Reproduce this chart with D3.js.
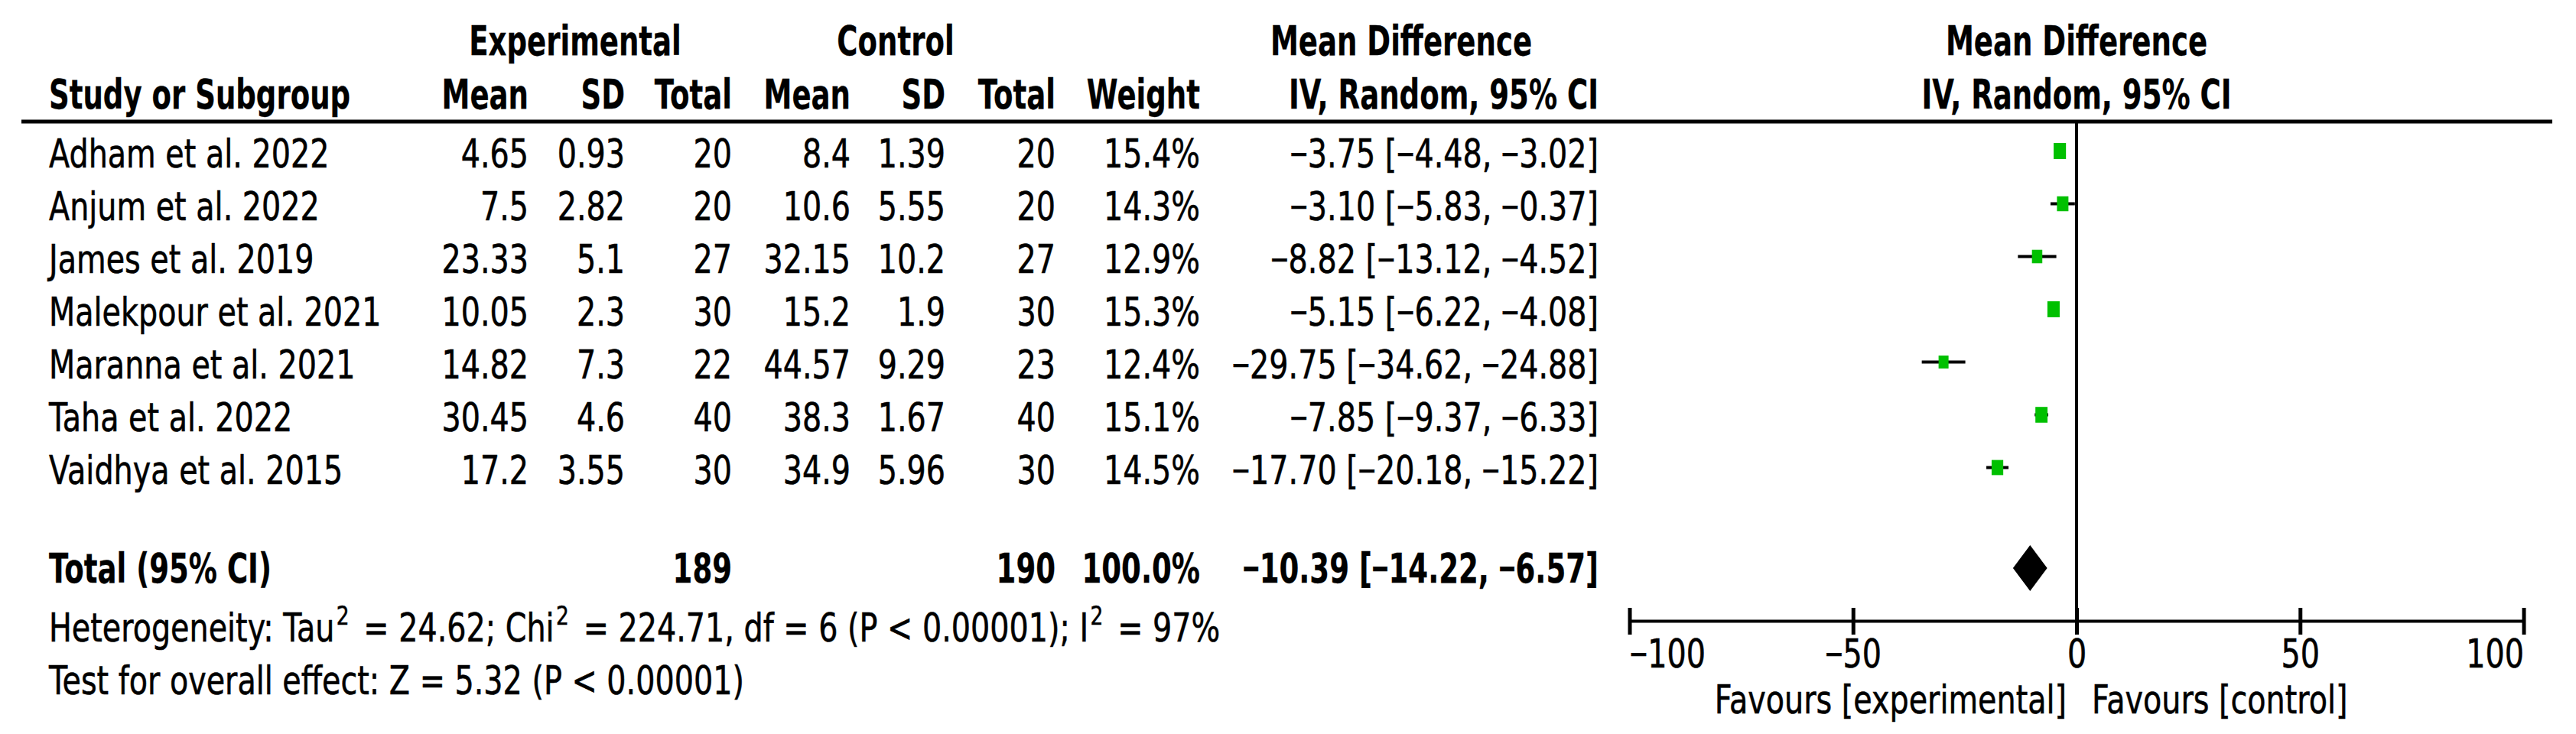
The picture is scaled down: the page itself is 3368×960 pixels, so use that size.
<!DOCTYPE html>
<html><head><meta charset="utf-8">
<script src="https://cdn.jsdelivr.net/npm/d3@7"></script>
<style>html,body{margin:0;padding:0;background:#fff;} svg{display:block;}</style>
</head><body>
<script>
// ---------------- data ----------------
const studies  = ["Adham et al. 2022","Anjum et al. 2022","James et al. 2019","Malekpour et al. 2021","Maranna et al. 2021","Taha et al. 2022","Vaidhya et al. 2015"];
const expMean  = ["4.65","7.5","23.33","10.05","14.82","30.45","17.2"];
const expSD    = ["0.93","2.82","5.1","2.3","7.3","4.6","3.55"];
const expN     = [20,20,27,30,22,40,30];
const ctrlMean = ["8.4","10.6","32.15","15.2","44.57","38.3","34.9"];
const ctrlSD   = ["1.39","5.55","10.2","1.9","9.29","1.67","5.96"];
const ctrlN    = [20,20,27,30,23,40,30];
const weights  = [15.4,14.3,12.9,15.3,12.4,15.1,14.5];
const md       = [-3.75,-3.10,-8.82,-5.15,-29.75,-7.85,-17.70];
const ciLow    = [-4.48,-5.83,-13.12,-6.22,-34.62,-9.37,-20.18];
const ciHigh   = [-3.02,-0.37,-4.52,-4.08,-24.88,-6.33,-15.22];
const totalExpN = 189, totalCtrlN = 190, totalWeight = 100.0;
const totalMD = -10.39, totalLow = -14.22, totalHigh = -6.57;
const tickValues = [-100,-50,0,50,100];
const heterogeneity = ["Heterogeneity: Tau","2"," = 24.62; Chi","2"," = 224.71, df = 6 (P < 0.00001); I","2"," = 97%"];
const overallTest = "Test for overall effect: Z = 5.32 (P < 0.00001)";
const favLeft = "Favours [experimental]", favRight = "Favours [control]";

// ---------------- layout ----------------
const W = 3368, H = 960;
const FR = 51, SR = 0.778;   // regular font size, horizontal compression
const FB = 53, SB = 0.70;    // bold
const FONT = "DejaVu Sans";
const MINUS_FONT = "Liberation Sans";
const f2 = d3.format(".2f"), f1 = d3.format(".1f"), f0 = d3.format("d");

const svg = d3.select("body").append("svg").attr("width", W).attr("height", H)
  .style("background","#fff");

// write a string into a text element, rendering minus signs with a narrower glyph
function fill(t, str) {
  const parts = String(str).split("\u2212");
  parts.forEach((p, k) => {
    if (k > 0) t.append("tspan").attr("font-family", MINUS_FONT).text("\u2212");
    if (p.length) t.append("tspan").text(p);
  });
  return t;
}

function styleText(t, bold) {
  return t.attr("font-family", FONT).attr("font-weight", bold?"bold":"normal")
    .attr("font-size", bold?FB:FR).attr("fill","#000")
    .attr("stroke", "#000").attr("stroke-width", bold ? 0.3 : 0.6);
}

function txt(x, y, str, bold=false, anchor="start") {
  const g = svg.append("g").attr("transform", `translate(${x},${y}) scale(${bold?SB:SR},1)`);
  const t = styleText(g.append("text").attr("text-anchor", anchor), bold);
  return fill(t, str);
}

const x = d3.scaleLinear().domain([-100,100]).range([2130.5, 3299.5]);
const rowY = d3.scaleLinear().domain([0,1]).range([197.5, 266.5]);  // row centre, step 69
const size = d3.scaleLinear().domain([0, 15.4]).range([0, 21]);
const zeroX = x(0);

// header
const h1 = 72, h2 = 142;
txt(752, h1, "Experimental", true, "middle");
txt(1171, h1, "Control", true, "middle");
txt(1832, h1, "Mean Difference", true, "middle");
txt(zeroX, h1, "Mean Difference", true, "middle");
txt(64, h2, "Study or Subgroup", true);
const colRight = {em:691, esd:817, en:957, cm:1112, csd:1236, cn:1380, w:1569, ci:2090};
txt(colRight.em, h2, "Mean", true, "end");
txt(colRight.esd, h2, "SD", true, "end");
txt(colRight.en, h2, "Total", true, "end");
txt(colRight.cm, h2, "Mean", true, "end");
txt(colRight.csd, h2, "SD", true, "end");
txt(colRight.cn, h2, "Total", true, "end");
txt(colRight.w, h2, "Weight", true, "end");
txt(colRight.ci, h2, "IV, Random, 95% CI", true, "end");
txt(zeroX, h2, "IV, Random, 95% CI", true, "middle");

// header rule
svg.append("line").attr("x1", 28).attr("x2", 3337).attr("y1", 159).attr("y2", 159)
  .attr("stroke","#000").attr("stroke-width", 5);

// zero line
svg.append("line").attr("x1", zeroX).attr("x2", zeroX).attr("y1", 159).attr("y2", 830)
  .attr("stroke","#000").attr("stroke-width", 4);

// rows
studies.forEach((s,i) => {
  const yc = rowY(i), yb = yc + 21.5;
  txt(64, yb, s);
  txt(colRight.em, yb, expMean[i], false, "end");
  txt(colRight.esd, yb, expSD[i], false, "end");
  txt(colRight.en, yb, f0(expN[i]), false, "end");
  txt(colRight.cm, yb, ctrlMean[i], false, "end");
  txt(colRight.csd, yb, ctrlSD[i], false, "end");
  txt(colRight.cn, yb, f0(ctrlN[i]), false, "end");
  txt(colRight.w, yb, f1(weights[i]) + "%", false, "end");
  txt(colRight.ci, yb, `${f2(md[i])} [${f2(ciLow[i])}, ${f2(ciHigh[i])}]`, false, "end");
});

// CI whiskers
svg.append("g").selectAll("line").data(md).join("line")
  .attr("x1", (d,i) => x(ciLow[i])).attr("x2", (d,i) => x(ciHigh[i]))
  .attr("y1", (d,i) => rowY(i)).attr("y2", (d,i) => rowY(i))
  .attr("stroke","#000").attr("stroke-width", 4);

// study markers
svg.append("g").selectAll("rect").data(md).join("rect")
  .attr("x", (d,i) => x(d) - size(weights[i])*0.77/2)
  .attr("y", (d,i) => rowY(i) - size(weights[i])/2)
  .attr("width", (d,i) => size(weights[i])*0.77)
  .attr("height", (d,i) => size(weights[i]))
  .attr("fill", "#00c000");

// total row
const totY = 743, totB = 762;
txt(64, totB, "Total (95% CI)", true);
txt(colRight.en, totB, f0(totalExpN), true, "end");
txt(colRight.cn, totB, f0(totalCtrlN), true, "end");
txt(colRight.w, totB, f1(totalWeight) + "%", true, "end");
txt(colRight.ci, totB, `${f2(totalMD)} [${f2(totalLow)}, ${f2(totalHigh)}]`, true, "end");

svg.append("polygon")
  .attr("points", [[x(totalLow), totY], [x(totalMD), totY - 30], [x(totalHigh), totY], [x(totalMD), totY + 30]].map(p => p.join(",")).join(" "))
  .attr("fill", "#000");

// heterogeneity & overall effect
{
  const g = svg.append("g").attr("transform", `translate(64,839) scale(${SR},1)`);
  const t = styleText(g.append("text"), false);
  heterogeneity.forEach((part, k) => {
    const sup = k % 2 === 1;
    t.append("tspan").attr("font-size", sup ? 34 : FR)
      .attr("dx", sup ? 3 : (k > 0 ? 8 : 0))
      .attr("dy", sup ? -22 : (k > 0 ? 22 : 0)).text(part);
  });
  txt(64, 908, overallTest);
}

// axis
const axisG = svg.append("g").attr("transform", "translate(0,812)")
  .call(d3.axisBottom(x).tickValues(tickValues).tickSizeOuter(0).tickSizeInner(18));
axisG.select(".domain").attr("stroke","#000").attr("stroke-width", 4);
axisG.selectAll(".tick line").attr("y1", -17).attr("y2", 18).attr("stroke","#000").attr("stroke-width", 5);
axisG.selectAll(".tick text")
  .each(function() { const s = this.textContent; this.textContent = ""; fill(d3.select(this), s); })
  .attr("y", 0).attr("dy", 0)
  .attr("transform", `translate(0,61) scale(${SR},1)`)
  .attr("font-family", FONT).attr("font-size", FR).attr("fill","#000")
  .attr("stroke", "#000").attr("stroke-width", 0.6)
  .attr("text-anchor", (d,i,n) => i === 0 ? "start" : (i === n.length-1 ? "end" : "middle"));
axisG.attr("font-family", FONT).attr("font-size", FR);

txt(zeroX - 13, 933, favLeft, false, "end");
txt(zeroX + 20, 933, favRight, false, "start");
</script>
</body></html>
